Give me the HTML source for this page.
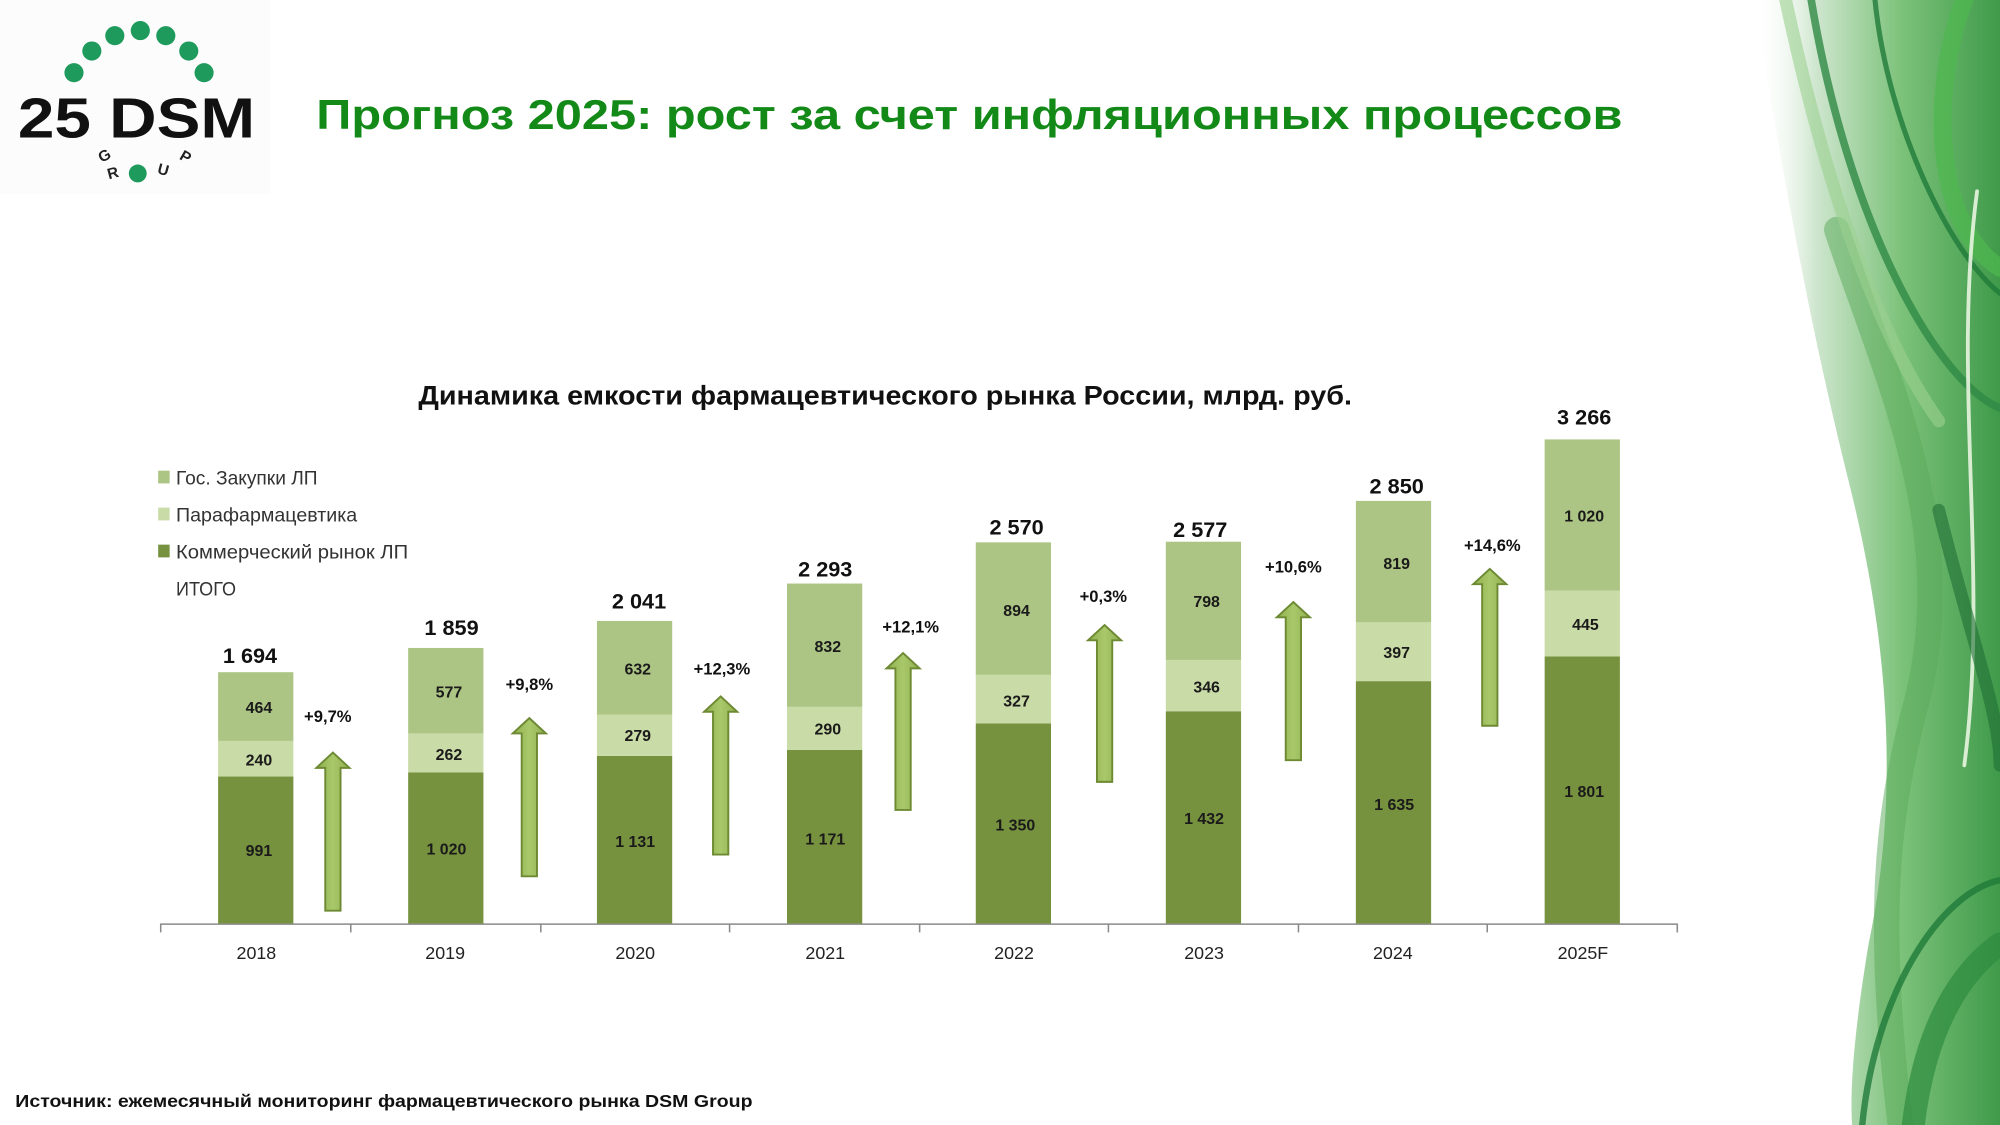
<!DOCTYPE html>
<html><head><meta charset="utf-8"><style>html,body{margin:0;padding:0;background:#fff}svg{display:block}</style></head>
<body>
<svg xmlns="http://www.w3.org/2000/svg" width="2000" height="1125" viewBox="0 0 1568 882" font-family="'Liberation Sans', 'DejaVu Sans', sans-serif">
<defs>
<linearGradient id="rg" x1="0" y1="0" x2="1" y2="0">
<stop offset="0" stop-color="#ffffff" stop-opacity="0"/>
<stop offset="0.25" stop-color="#cfe6cf"/>
<stop offset="0.6" stop-color="#7cc27a"/>
<stop offset="1" stop-color="#3f9a4a"/>
</linearGradient>
<linearGradient id="ag" x1="0" y1="0" x2="1" y2="0">
<stop offset="0" stop-color="#8fb04f"/><stop offset="0.5" stop-color="#a9c86a"/><stop offset="1" stop-color="#8fb04f"/>
</linearGradient>
</defs>
<rect width="1568" height="882" fill="#fff"/>
<path d="M1375,0 C1400,150 1420,260 1450,380 C1480,500 1490,620 1465,740 C1455,800 1450,850 1452,882 L1568,882 L1568,0 Z" fill="url(#rg)"/>
<g fill="none" stroke-linecap="round">
<path d="M1420,0 C1450,180 1520,300 1568,320" stroke="#2f8a45" stroke-width="6" opacity="0.8"/>
<path d="M1470,0 C1480,100 1530,200 1568,230" stroke="#1f7a3a" stroke-width="4" opacity="0.8"/>
<path d="M1540,0 C1510,80 1520,180 1568,210" stroke="#4fb84f" stroke-width="14" opacity="0.7"/>
<path d="M1440,180 C1480,300 1540,420 1500,560 C1480,640 1470,720 1490,882" stroke="#5aaa5a" stroke-width="20" opacity="0.5"/>
<path d="M1460,882 C1470,780 1520,700 1568,690" stroke="#1f7a3a" stroke-width="5" opacity="0.8"/>
<path d="M1500,882 C1510,800 1540,760 1568,740" stroke="#2e8b3e" stroke-width="18" opacity="0.7"/>
<path d="M1550,150 C1530,300 1560,450 1540,600" stroke="#e8f5e0" stroke-width="3" opacity="0.9"/>
<path d="M1400,0 C1430,140 1470,260 1520,330" stroke="#9bd08f" stroke-width="10" opacity="0.6"/>
<path d="M1520,400 C1545,500 1568,560 1568,600" stroke="#1f6e35" stroke-width="10" opacity="0.6"/>
</g>
<rect x="0" y="0" width="212" height="152" fill="#fcfcfc"/>
<g fill="#1e9a5c">
<circle cx="72" cy="40" r="7.5"/><circle cx="90" cy="28" r="7.5"/><circle cx="110" cy="24" r="7.5"/>
<circle cx="130" cy="28" r="7.5"/><circle cx="148" cy="40" r="7.5"/><circle cx="160" cy="57" r="7.5"/>
<circle cx="58" cy="57" r="7.5"/><circle cx="108" cy="136" r="7"/>
</g>
<text x="14" y="108" font-size="44" font-weight="bold" fill="#111" textLength="186" lengthAdjust="spacingAndGlyphs">25 DSM</text>
<g font-size="12" font-weight="bold" fill="#222">
<text x="77" y="127" transform="rotate(-30 80 122)">G</text>
<text x="84" y="140" transform="rotate(-15 87 135)">R</text>
<text x="124" y="137" transform="rotate(15 128 132)">U</text>
<text x="142" y="127" transform="rotate(30 146 122)">P</text>
</g>
<text x="248" y="101" font-size="33" font-weight="bold" fill="#138a17" textLength="1024" lengthAdjust="spacingAndGlyphs">Прогноз 2025: рост за счет инфляционных процессов</text>
<text x="328" y="317" font-size="21" font-weight="bold" fill="#111" textLength="732" lengthAdjust="spacingAndGlyphs">Динамика емкости фармацевтического рынка России, млрд. руб.</text>
<g font-size="15" fill="#333">
<rect x="124" y="369" width="9" height="10" fill="#adc584"/><text x="138" y="380" textLength="111" lengthAdjust="spacingAndGlyphs">Гос. Закупки ЛП</text>
<rect x="124" y="398" width="9" height="10" fill="#c9dba6"/><text x="138" y="409" textLength="142" lengthAdjust="spacingAndGlyphs">Парафармацевтика</text>
<rect x="124" y="427" width="9" height="10" fill="#77923f"/><text x="138" y="438" textLength="182" lengthAdjust="spacingAndGlyphs">Коммерческий рынок ЛП</text>
<text x="138" y="467" textLength="47" lengthAdjust="spacingAndGlyphs">ИТОГО</text>
</g>
<g stroke="#8a8a8a" stroke-width="1.2">
<line x1="126" y1="724.5" x2="1315" y2="724.5"/>
<line x1="126" y1="724" x2="126" y2="731"/><line x1="275" y1="724" x2="275" y2="731"/><line x1="424" y1="724" x2="424" y2="731"/>
<line x1="572" y1="724" x2="572" y2="731"/><line x1="721" y1="724" x2="721" y2="731"/><line x1="869" y1="724" x2="869" y2="731"/>
<line x1="1018" y1="724" x2="1018" y2="731"/><line x1="1166" y1="724" x2="1166" y2="731"/><line x1="1315" y1="724" x2="1315" y2="731"/>
</g>
<g font-size="14" fill="#222" text-anchor="middle">
<text x="201" y="752">2018</text><text x="349" y="752">2019</text><text x="498" y="752">2020</text><text x="647" y="752">2021</text>
<text x="795" y="752">2022</text><text x="944" y="752">2023</text><text x="1092" y="752">2024</text><text x="1241" y="752">2025F</text>
</g>
<g>
<rect x="171" y="608.8" width="59" height="115.2" fill="#77923f"/><rect x="171" y="580.9" width="59" height="27.9" fill="#c9dba6"/><rect x="171" y="527.0" width="59" height="53.9" fill="#adc584"/>
<rect x="320" y="605.5" width="59" height="118.5" fill="#77923f"/><rect x="320" y="575.0" width="59" height="30.5" fill="#c9dba6"/><rect x="320" y="508.0" width="59" height="67.0" fill="#adc584"/>
<rect x="468" y="592.6" width="59" height="131.4" fill="#77923f"/><rect x="468" y="560.2" width="59" height="32.4" fill="#c9dba6"/><rect x="468" y="486.8" width="59" height="73.4" fill="#adc584"/>
<rect x="617" y="587.9" width="59" height="136.1" fill="#77923f"/><rect x="617" y="554.2" width="59" height="33.7" fill="#c9dba6"/><rect x="617" y="457.5" width="59" height="96.7" fill="#adc584"/>
<rect x="765" y="567.1" width="59" height="156.9" fill="#77923f"/><rect x="765" y="529.1" width="59" height="38.0" fill="#c9dba6"/><rect x="765" y="425.2" width="59" height="103.9" fill="#adc584"/>
<rect x="914" y="557.6" width="59" height="166.4" fill="#77923f"/><rect x="914" y="517.4" width="59" height="40.2" fill="#c9dba6"/><rect x="914" y="424.7" width="59" height="92.7" fill="#adc584"/>
<rect x="1063" y="534.0" width="59" height="190.0" fill="#77923f"/><rect x="1063" y="487.9" width="59" height="46.1" fill="#c9dba6"/><rect x="1063" y="392.7" width="59" height="95.2" fill="#adc584"/>
<rect x="1211" y="514.7" width="59" height="209.3" fill="#77923f"/><rect x="1211" y="463.0" width="59" height="51.7" fill="#c9dba6"/><rect x="1211" y="344.5" width="59" height="118.5" fill="#adc584"/>
</g>
<g font-size="12.5" font-weight="bold" fill="#1a1a1a" text-anchor="middle">
<text x="203" y="671">991</text><text x="203" y="600">240</text><text x="203" y="559">464</text>
<text x="350" y="670">1 020</text><text x="352" y="596">262</text><text x="352" y="547">577</text>
<text x="498" y="664">1 131</text><text x="500" y="581">279</text><text x="500" y="529">632</text>
<text x="647" y="662">1 171</text><text x="649" y="576">290</text><text x="649" y="511">832</text>
<text x="796" y="651">1 350</text><text x="797" y="554">327</text><text x="797" y="483">894</text>
<text x="944" y="646">1 432</text><text x="946" y="543">346</text><text x="946" y="476">798</text>
<text x="1093" y="635">1 635</text><text x="1095" y="516">397</text><text x="1095" y="446">819</text>
<text x="1242" y="625">1 801</text><text x="1243" y="494">445</text><text x="1242" y="409">1 020</text>
</g>
<g font-size="17" font-weight="bold" fill="#111" text-anchor="middle">
<text x="196" y="520">1 694</text><text x="354" y="498">1 859</text><text x="501" y="477">2 041</text><text x="647" y="452">2 293</text>
<text x="797" y="419">2 570</text><text x="941" y="421">2 577</text><text x="1095" y="387">2 850</text><text x="1242" y="333">3 266</text>
</g>
<g font-size="13" font-weight="bold" fill="#111" text-anchor="middle">
<text x="257" y="566">+9,7%</text><text x="415" y="541">+9,8%</text><text x="566" y="529">+12,3%</text><text x="714" y="496">+12,1%</text>
<text x="865" y="472">+0,3%</text><text x="1014" y="449">+10,6%</text><text x="1170" y="432">+14,6%</text>
</g>
<g fill="url(#ag)" stroke="#6d8a33" stroke-width="1.5" stroke-linejoin="miter">
<path d="M255,714 L255,602 L248,602 L261,590 L274,602 L267,602 L267,714 Z"/>
<path d="M409,687 L409,575 L402,575 L415,563 L428,575 L421,575 L421,687 Z"/>
<path d="M559,670 L559,558 L552,558 L565,546 L578,558 L571,558 L571,670 Z"/>
<path d="M702,635 L702,524 L695,524 L708,512 L721,524 L714,524 L714,635 Z"/>
<path d="M860,613 L860,502 L853,502 L866,490 L879,502 L872,502 L872,613 Z"/>
<path d="M1008,596 L1008,484 L1001,484 L1014,472 L1027,484 L1020,484 L1020,596 Z"/>
<path d="M1162,569 L1162,458 L1155,458 L1168,446 L1181,458 L1174,458 L1174,569 Z"/>
</g>
<text x="12" y="868" font-size="13.5" font-weight="bold" fill="#111" textLength="578" lengthAdjust="spacingAndGlyphs">Источник: ежемесячный мониторинг фармацевтического рынка DSM Group</text>
</svg>
</body></html>
